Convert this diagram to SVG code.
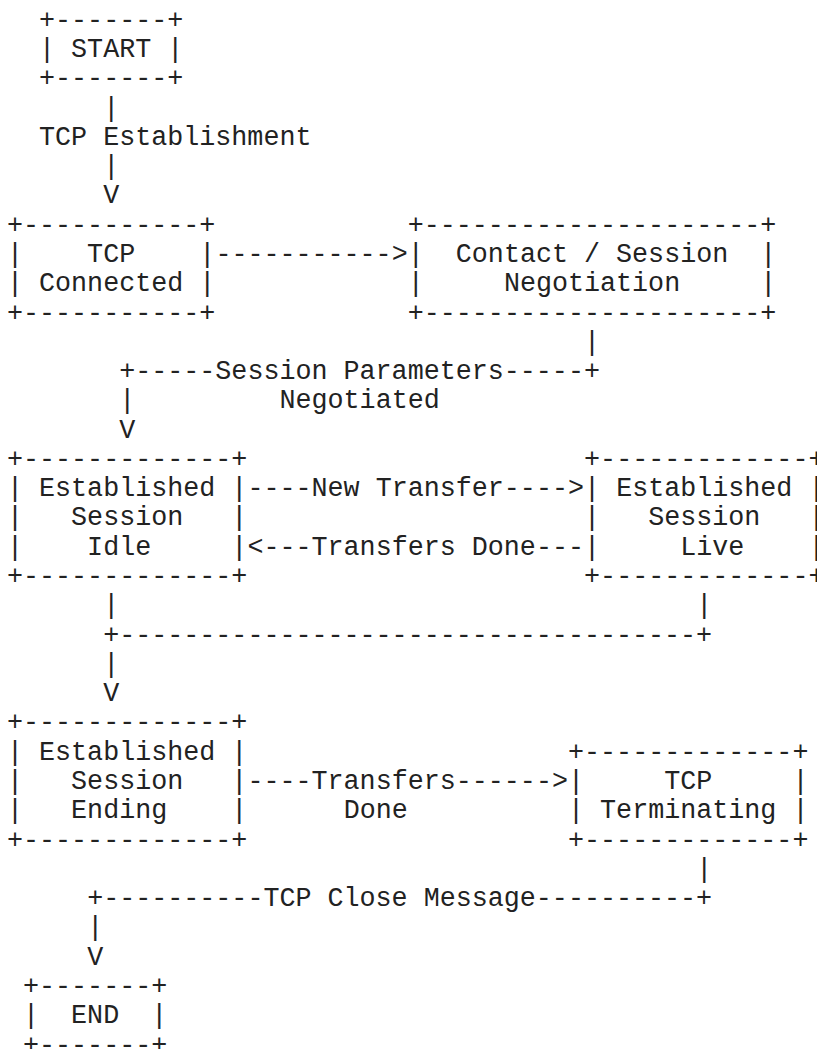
<svg xmlns="http://www.w3.org/2000/svg" width="817" height="1049" viewBox="0 0 817 1049">
  <style>
    /* monospace grid: 16.03px per column, 29.28px per row */
    .t { font-family: "Liberation Mono", "DejaVu Sans Mono", monospace; font-size: 26.71px; fill: #222; white-space: pre; }
  </style>
  <rect width="817" height="1049" fill="#fff"/>

  <!-- states -->
  <g id="start" class="t">
    <text x="39.06" y="27.7" xml:space="preserve">+-------+</text>
    <text x="39.06" y="56.98" xml:space="preserve">| START |</text>
    <text x="39.06" y="86.26" xml:space="preserve">+-------+</text>
  </g>

  <g id="tcp-connected" class="t">
    <text x="7" y="232.66" xml:space="preserve">+-----------+</text>
    <text x="7" y="261.94" xml:space="preserve">|    TCP    |</text>
    <text x="7" y="291.22" xml:space="preserve">| Connected |</text>
    <text x="7" y="320.5" xml:space="preserve">+-----------+</text>
  </g>

  <g id="contact-negotiation" class="t">
    <text x="407.75" y="232.66" xml:space="preserve">+---------------------+</text>
    <text x="407.75" y="261.94" xml:space="preserve">|  Contact / Session  |</text>
    <text x="407.75" y="291.22" xml:space="preserve">|     Negotiation     |</text>
    <text x="407.75" y="320.5" xml:space="preserve">+---------------------+</text>
  </g>

  <g id="session-idle" class="t">
    <text x="7" y="466.9" xml:space="preserve">+-------------+</text>
    <text x="7" y="496.18" xml:space="preserve">| Established |</text>
    <text x="7" y="525.46" xml:space="preserve">|   Session   |</text>
    <text x="7" y="554.74" xml:space="preserve">|    Idle     |</text>
    <text x="7" y="584.02" xml:space="preserve">+-------------+</text>
  </g>

  <g id="session-live" class="t">
    <text x="584.08" y="466.9" xml:space="preserve">+-------------+</text>
    <text x="584.08" y="496.18" xml:space="preserve">| Established |</text>
    <text x="584.08" y="525.46" xml:space="preserve">|   Session   |</text>
    <text x="584.08" y="554.74" xml:space="preserve">|     Live    |</text>
    <text x="584.08" y="584.02" xml:space="preserve">+-------------+</text>
  </g>

  <g id="session-ending" class="t">
    <text x="7" y="730.42" xml:space="preserve">+-------------+</text>
    <text x="7" y="759.7" xml:space="preserve">| Established |</text>
    <text x="7" y="788.98" xml:space="preserve">|   Session   |</text>
    <text x="7" y="818.26" xml:space="preserve">|   Ending    |</text>
    <text x="7" y="847.54" xml:space="preserve">+-------------+</text>
  </g>

  <g id="tcp-terminating" class="t">
    <text x="568.05" y="759.7" xml:space="preserve">+-------------+</text>
    <text x="568.05" y="788.98" xml:space="preserve">|     TCP     |</text>
    <text x="568.05" y="818.26" xml:space="preserve">| Terminating |</text>
    <text x="568.05" y="847.54" xml:space="preserve">+-------------+</text>
  </g>

  <g id="end" class="t">
    <text x="23.03" y="993.94" xml:space="preserve">+-------+</text>
    <text x="23.03" y="1023.22" xml:space="preserve">|  END  |</text>
    <text x="23.03" y="1052.5" xml:space="preserve">+-------+</text>
  </g>

  <!-- transitions -->
  <g id="connectors" class="t">
    <text x="103.18" y="115.54">|</text>
    <text x="39.06" y="144.82" xml:space="preserve">TCP Establishment</text>
    <text x="103.18" y="174.1">|</text>
    <text x="103.18" y="203.38">V</text>

    <text x="215.39" y="261.94">-----------&gt;</text>

    <text x="584.08" y="349.78">|</text>
    <text x="119.21" y="379.06" xml:space="preserve">+-----Session Parameters-----+</text>
    <text x="119.21" y="408.34">|</text>
    <text x="279.51" y="408.34">Negotiated</text>
    <text x="119.21" y="437.62">V</text>

    <text x="247.45" y="496.18" xml:space="preserve">----New Transfer----&gt;</text>
    <text x="247.45" y="554.74" xml:space="preserve">&lt;---Transfers Done---</text>

    <text x="103.18" y="613.3">|</text>
    <text x="696.29" y="613.3">|</text>
    <text x="103.18" y="642.58">+------------------------------------+</text>
    <text x="103.18" y="671.86">|</text>
    <text x="103.18" y="701.14">V</text>

    <text x="247.45" y="788.98">----Transfers------&gt;</text>
    <text x="343.63" y="818.26">Done</text>

    <text x="696.29" y="876.82">|</text>
    <text x="87.15" y="906.1" xml:space="preserve">+----------TCP Close Message----------+</text>
    <text x="87.15" y="935.38">|</text>
    <text x="87.15" y="964.66">V</text>
  </g>
</svg>
